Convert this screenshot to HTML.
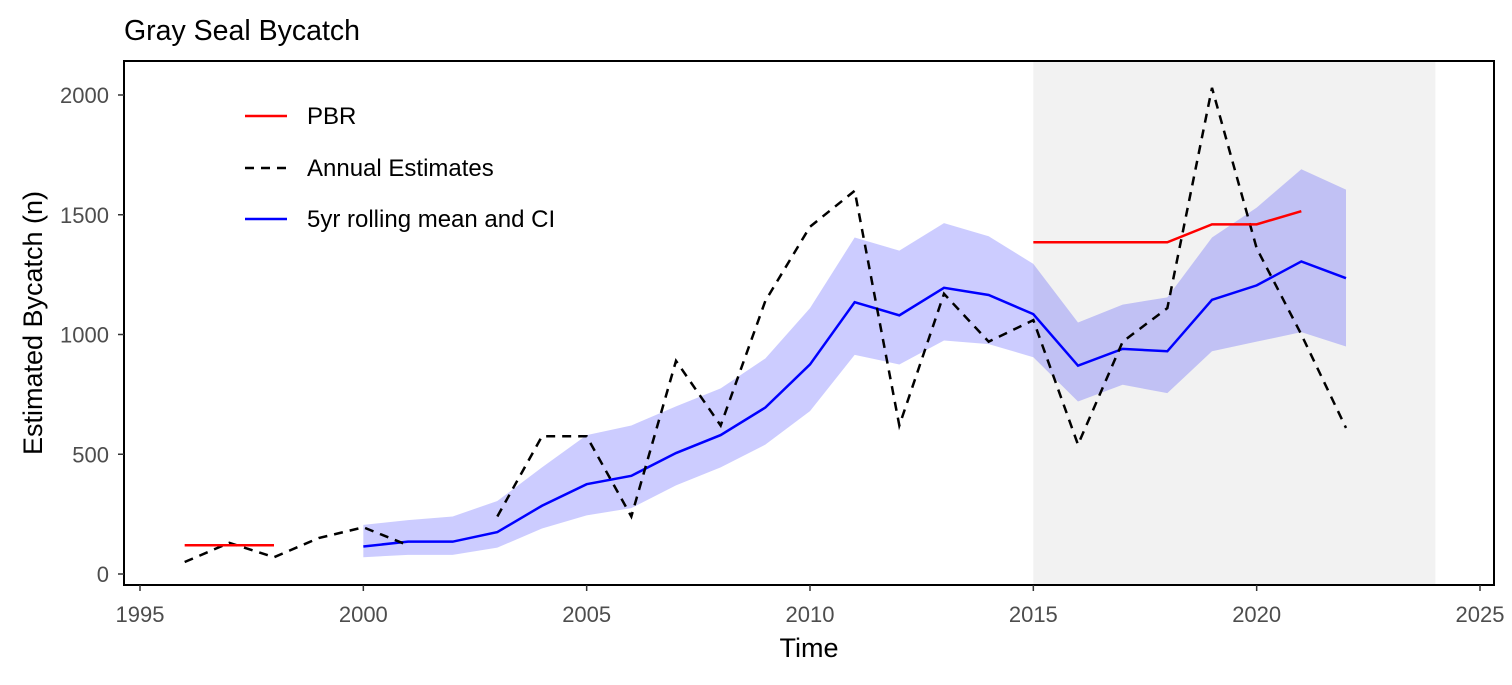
<!DOCTYPE html>
<html><head><meta charset="utf-8"><style>
body{margin:0;background:#fff}
svg text{font-family:"Liberation Sans",Arial,sans-serif}
</style></head><body>
<svg id="chart" width="1512" height="680" xmlns="http://www.w3.org/2000/svg">
<text x="124" y="40" font-size="28.5" fill="#000">Gray Seal Bycatch</text>
<g id="plot"></g>
</svg>
<script>
const years=[2000,2001,2002,2003,2004,2005,2006,2007,2008,2009,2010,2011,2012,2013,2014,2015,2016,2017,2018,2019,2020,2021,2022];
const meanVals=[115,135,135,175,285,375,410,505,580,695,875,1135,1080,1195,1165,1085,870,940,930,1145,1205,1305,1235];
const upperVals=[205,225,240,305,445,580,620,700,775,900,1110,1405,1350,1465,1410,1295,1050,1125,1155,1405,1530,1690,1605];
const lowerVals=[70,80,80,110,190,245,275,370,445,540,680,915,875,975,960,905,720,790,755,930,970,1010,950];
const annualYears=[1996,1997,1998,1999,2000,2001,2002,2003,2004,2005,2006,2007,2008,2009,2010,2011,2012,2013,2014,2015,2016,2017,2018,2019,2020,2021,2022];
const annualVals=[50,130,70,150,195,120,null,240,575,575,240,890,620,1140,1450,1600,620,1170,970,1060,540,970,1110,2030,1360,1000,610];
const pbrYears1=[1996,1997,1998];
const pbrVals1=[120,120,120];
const pbrYears2=[2015,2016,2017,2018,2019,2020,2021];
const pbrVals2=[1385,1385,1385,1385,1460,1460,1515];
const xTicks=[1995,2000,2005,2010,2015,2020,2025];
const yTicks=[0,500,1000,1500,2000];
const shadeRange=[2015,2024];

const NS="http://www.w3.org/2000/svg";
const L=124,R=1494,T=61,B=585;
const sx=v=>140+(v-1995)*(1480-140)/30;
const sy=v=>574-v*(574-95)/2000;
const g=document.getElementById('plot');
function mk(tag,attrs){const e=document.createElementNS(NS,tag);for(const k in attrs)e.setAttribute(k,attrs[k]);g.appendChild(e);return e;}

let e=mk('rect',{x:sx(shadeRange[0]),y:T,width:sx(shadeRange[1])-sx(shadeRange[0]),height:B-T,fill:'#f2f2f2'});



let pts=years.map((y,i)=>sx(y)+','+sy(upperVals[i]));
for(let i=years.length-1;i>=0;i--)pts.push(sx(years[i])+','+sy(lowerVals[i]));
e=mk('polygon',{points:pts.join(' '),fill:'rgba(0,0,255,0.2)'});



function line(xs,vs,color,dash,name){
  let d='',pen=false;
  xs.forEach((x,i)=>{if(vs[i]==null){pen=false;return;}d+=(pen?'L':'M')+sx(x)+' '+sy(vs[i])+' ';pen=true;});
  const p=mk('path',{d:d,fill:'none',stroke:color,'stroke-width':2.5});
  if(dash)p.setAttribute('stroke-dasharray',dash);
  
  
}
line(years,meanVals,'#0000ff',null,'rolling-mean-line');
line(annualYears,annualVals,'#000',"9,7",'annual-estimates-line');
line(pbrYears1,pbrVals1,'#ff0000',null,'pbr-line-early');
line(pbrYears2,pbrVals2,'#ff0000',null,'pbr-line-recent');

e=mk('rect',{x:L,y:T,width:R-L,height:B-T,fill:'none',stroke:'#000','stroke-width':2});



xTicks.forEach(t=>{
  let tk=mk('line',{x1:sx(t),x2:sx(t),y1:B,y2:B+6,stroke:'#333','stroke-width':1.5});
  
  
  let tx=mk('text',{x:sx(t),y:622,'font-size':22,fill:'#4d4d4d','text-anchor':'middle'});tx.textContent=t;
  
  
});
yTicks.forEach(t=>{
  let tk=mk('line',{x1:L-6,x2:L,y1:sy(t),y2:sy(t),stroke:'#333','stroke-width':1.5});
  
  
  let tx=mk('text',{x:L-15,y:sy(t)+8,'font-size':22,fill:'#4d4d4d','text-anchor':'end'});tx.textContent=t;
  
  
});
e=mk('text',{x:809,y:657,'font-size':27,'text-anchor':'middle',fill:'#000'});e.textContent='Time';


e=mk('text',{x:42,y:323,'font-size':27,'text-anchor':'middle',fill:'#000',transform:'rotate(-90 42 323)'});e.textContent='Estimated Bycatch (n)';



const legend=[['PBR','#ff0000',null,116],['Annual Estimates','#000','9,7',168],['5yr rolling mean and CI','#0000ff',null,219]];
legend.forEach(([lab,c,d,y])=>{
  let ln=mk('line',{x1:245,x2:287,y1:y,y2:y,stroke:c,'stroke-width':2.5});
  if(d)ln.setAttribute('stroke-dasharray',d);
  
  
  let tx=mk('text',{x:307,y:y+8,'font-size':24,fill:'#000'});tx.textContent=lab;
  
  
});
</script>
</body></html>
